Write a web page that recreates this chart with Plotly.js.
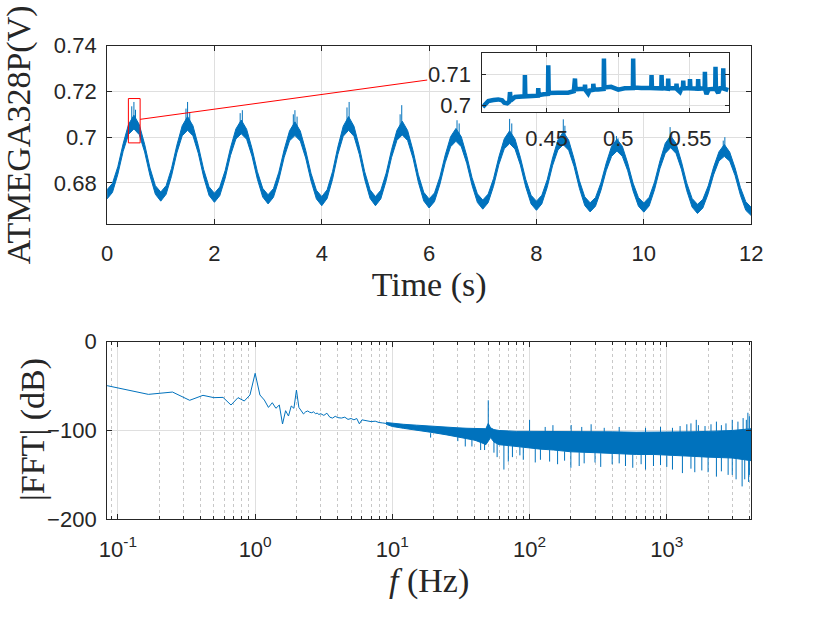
<!DOCTYPE html>
<html><head><meta charset="utf-8">
<script src="https://cdn.plot.ly/plotly-3.0.1.min.js"></script>
<style>html,body{margin:0;padding:0;background:#fff}#chart{width:830px;height:623px}</style>
</head><body><div id="chart"></div><script>
// ---------- top panel: voltage vs time (noise band centre + half width) ----------
const timeS = [0,0.1,0.2,0.3,0.4,0.5,0.6,0.7,0.8,0.9,1,1.1,1.2,1.3,1.4,1.5,1.6,1.7,1.8,1.9,2,2.1,2.2,2.3,2.4,2.5,2.6,2.7,2.8,2.9,3,3.1,3.2,3.3,3.4,3.5,3.6,3.7,3.8,3.9,4,4.1,4.2,4.3,4.4,4.5,4.6,4.7,4.8,4.9,5,5.1,5.2,5.3,5.4,5.5,5.6,5.7,5.8,5.9,6,6.1,6.2,6.3,6.4,6.5,6.6,6.7,6.8,6.9,7,7.1,7.2,7.3,7.4,7.5,7.6,7.7,7.8,7.9,8,8.1,8.2,8.3,8.4,8.5,8.6,8.7,8.8,8.9,9,9.1,9.2,9.3,9.4,9.5,9.6,9.7,9.8,9.9,10,10.1,10.2,10.3,10.4,10.5,10.6,10.7,10.8,10.9,11,11.1,11.2,11.3,11.4,11.5,11.6,11.7,11.8,11.9,12];
const voltCenter = [0.6750,0.6778,0.6854,0.6955,0.7034,0.7066,0.7033,0.6952,0.6848,0.6769,
0.6740,0.6769,0.6846,0.6948,0.7028,0.7060,0.7028,0.6946,0.6842,0.6764,
0.6735,0.6763,0.6837,0.6937,0.7014,0.7045,0.7013,0.6934,0.6833,0.6757,
0.6728,0.6756,0.6830,0.6929,0.7006,0.7037,0.7005,0.6926,0.6825,0.6749,
0.6720,0.6751,0.6832,0.6941,0.7026,0.7060,0.7026,0.6941,0.6832,0.6751,
0.6720,0.6749,0.6826,0.6928,0.7008,0.7040,0.7007,0.6925,0.6819,0.6740,
0.6710,0.6737,0.6809,0.6905,0.6980,0.7010,0.6980,0.6903,0.6806,0.6733,
0.6705,0.6732,0.6802,0.6897,0.6971,0.7000,0.6970,0.6895,0.6799,0.6727,
0.6700,0.6727,0.6797,0.6892,0.6966,0.6995,0.6965,0.6889,0.6793,0.6720,
0.6693,0.6717,0.6783,0.6870,0.6938,0.6965,0.6938,0.6870,0.6782,0.6717,
0.6692,0.6718,0.6787,0.6879,0.6951,0.6980,0.6951,0.6877,0.6783,0.6713,
0.6686,0.6709,0.6770,0.6852,0.6916,0.6942,0.6915,0.6849,0.6763,0.6699,0.6675];
const voltHalf = [0.0020,0.0020,0.0017,0.0017,0.0022,0.0030,0.0022,0.0017,0.0017,0.0019,
0.0020,0.0019,0.0017,0.0017,0.0022,0.0030,0.0022,0.0017,0.0017,0.0019,
0.0020,0.0019,0.0017,0.0017,0.0022,0.0030,0.0022,0.0017,0.0017,0.0019,
0.0020,0.0019,0.0017,0.0017,0.0022,0.0030,0.0022,0.0017,0.0017,0.0019,
0.0020,0.0019,0.0017,0.0017,0.0022,0.0030,0.0022,0.0017,0.0017,0.0019,
0.0020,0.0019,0.0017,0.0017,0.0022,0.0030,0.0022,0.0017,0.0017,0.0019,
0.0020,0.0019,0.0017,0.0017,0.0022,0.0028,0.0022,0.0017,0.0017,0.0019,
0.0020,0.0019,0.0017,0.0017,0.0022,0.0028,0.0022,0.0017,0.0017,0.0019,
0.0020,0.0019,0.0017,0.0017,0.0022,0.0028,0.0022,0.0017,0.0017,0.0019,
0.0020,0.0019,0.0017,0.0017,0.0022,0.0026,0.0022,0.0017,0.0017,0.0019,
0.0020,0.0019,0.0017,0.0017,0.0022,0.0026,0.0022,0.0017,0.0017,0.0019,
0.0020,0.0019,0.0017,0.0017,0.0020,0.0026,0.0020,0.0017,0.0017,0.0019,0.0018];
// spikes near the peaks
const spikeT    = [0.46,0.50,0.53,1.47,1.50,1.54,2.48,2.52,3.47,3.50,3.54,4.47,4.51,5.46,5.49,6.52,6.56,7.50,7.54,8.50,8.53,9.49,9.52,10.49,10.52,11.48,11.51];
const spikeBase = [0.705,0.7066,0.705,0.705,0.706,0.704,0.703,0.704,0.703,0.7037,0.702,0.705,0.706,0.703,0.704,0.7005,0.700,0.700,0.699,0.6995,0.699,0.6965,0.696,0.698,0.6975,0.694,0.6942];
const spikeTop  = [0.7135,0.7154,0.712,0.7125,0.7154,0.711,0.7105,0.7118,0.710,0.7118,0.709,0.713,0.7154,0.710,0.714,0.7074,0.706,0.708,0.706,0.7078,0.705,0.7005,0.6995,0.7044,0.702,0.6985,0.700];

// ---------- inset: zoom of 0.405 - 0.578 s ----------
const insetT = [0.4055,0.4070,0.4094,0.4130,0.4163,0.4190,0.4205,0.4225,0.4240,0.4245,0.4250,0.4280,0.4320,0.4347,0.4349,0.4352,0.4400,0.4440,0.4442,0.4445,0.4480,0.4510,0.4512,0.4515,0.4580,0.4650,0.4690,0.4698,0.4702,0.4730,0.4766,0.4768,0.4771,0.4790,0.4800,0.4824,0.4826,0.4830,0.4860,0.4898,0.4900,0.4903,0.4950,0.5000,0.5045,0.5102,0.5104,0.5107,0.5160,0.5230,0.5232,0.5235,0.5300,0.5302,0.5305,0.5346,0.5348,0.5351,0.5404,0.5406,0.5409,0.5430,0.5440,0.5451,0.5453,0.5456,0.5498,0.5500,0.5503,0.5555,0.5557,0.5560,0.5602,0.5604,0.5607,0.5615,0.5630,0.5676,0.5678,0.5681,0.5697,0.5710,0.5730,0.5732,0.5735,0.5767];
const insetV = [0.6994,0.7000,0.7014,0.7017,0.7019,0.7016,0.7008,0.7006,0.7012,0.7043,0.7015,0.7027,0.7028,0.7029,0.7098,0.7029,0.7030,0.7031,0.7056,0.7033,0.7036,0.7037,0.7130,0.7040,0.7041,0.7041,0.7046,0.7087,0.7052,0.7054,0.7054,0.7067,0.7050,0.7038,0.7048,0.7050,0.7070,0.7052,0.7051,0.7053,0.7152,0.7058,0.7060,0.7051,0.7055,0.7056,0.7152,0.7058,0.7056,0.7057,0.7098,0.7056,0.7055,0.7098,0.7056,0.7054,0.7087,0.7055,0.7055,0.7070,0.7052,0.7043,0.7054,0.7055,0.7080,0.7055,0.7056,0.7085,0.7055,0.7054,0.7085,0.7054,0.7055,0.7109,0.7050,0.7036,0.7052,0.7054,0.7125,0.7052,0.7040,0.7055,0.7055,0.7120,0.7054,0.7049];
const zoomBox = {t0: 0.397, t1: 0.616, v0: 0.6975, v1: 0.7169};
const connector = {t0: 0.616, v0: 0.7078, t1: 5.965, v1: 0.725};

// ---------- bottom panel: FFT ----------
const lowF  = [0.0833,0.1667,0.25,0.3333,0.4167,0.5,0.5833,0.6667,0.75,0.8333,0.9167,1.0,1.0833,1.1667,1.25,1.3333,1.4167,1.5,1.5833,1.6667,1.75,1.8333,1.9167,2.0,2.0833,2.1667,2.25,2.3333,2.4167,2.5,2.5833,2.6667,2.75,2.8333,2.9167,3.0,3.1667,3.3333,3.5,3.6667,3.8333,4.0,4.25,4.5,4.75,5.0,5.25,5.5,5.75,6.0,6.5,7.0,7.5,8.0,8.5,9.0];
const lowDb = [-49.5,-59.3,-56.7,-66,-60.4,-63,-62.7,-71.3,-63,-66.8,-60,-35.6,-60,-65.7,-74,-68.7,-75,-71.3,-92.7,-77.7,-83.7,-72.4,-75,-54.4,-74,-77.7,-81.4,-79,-78,-79.5,-80,-79,-81,-80.5,-82,-81,-83,-80.5,-85,-86,-84,-85.5,-86,-85,-87.5,-86.5,-88,-86.5,-92.5,-88,-89,-90,-89.5,-91,-91.5,-92];
const envF  = [9,10,12,15,20,25,30,35,40,45,48,50,52,55,60,70,80,100,120,150,200,300,400,600,800,1000,1500,2000,3000,4120];
const envHi = [-91,-92,-93,-94,-95.5,-96.5,-97,-97.5,-98,-98.5,-98,-92,-97,-99,-100,-100.5,-101,-101,-101,-101,-101.5,-101.5,-101.5,-102,-102,-102,-101.5,-101,-100,-98];
const envLo = [-93,-95.5,-97.5,-99.5,-102.5,-105,-107,-109,-111,-114,-116,-112,-108,-113,-116,-117,-118,-120,-121,-122,-124,-125,-126,-127,-127,-128,-129,-130,-131,-134];
const fftSpikeF    = [50,100,130,148,201,240,281,350,450,700,900,1100,1250,1400,1500,1640,1700,1900,2100,2300,2500,2700,3000,3300,3600,3800,3900,4000,
                      19,30,34,38,44,47,55,58,65,70,75,85,90,110,120,140,160,180,200,230,250,300,330,400,450,500,565,650,700,800,900,1000,1100,1300,1500,1600,1800,2000,2300,2500,2800,3000,3200,3540,3700,3950,4000];
const fftSpikeFrom = [-95,-101,-101,-101,-101.5,-101.5,-101.5,-101.5,-101.5,-102,-102,-102,-102,-101.5,-101.5,-101,-101,-101,-101,-101,-100.5,-100.5,-100,-99.5,-99,-98.5,-98.5,-98,
                      -103,-107,-108,-110,-112,-115,-113,-115,-116,-117,-117.5,-118.5,-119,-120.5,-121,-121.5,-122.5,-123.5,-124,-124.5,-124.5,-125,-125.5,-126,-126.5,-126.5,-127,-127,-127,-127,-127.5,-128,-128.5,-128.5,-129,-129.5,-129.5,-130,-130,-130.5,-130.5,-131,-131.5,-132,-133,-133.5,-134];
const fftSpikeTo   = [-66,-88,-96,-94,-93.8,-96,-93,-97,-96,-97,-96,-97,-95,-93,-92,-88,-94,-95,-93,-90,-94,-92,-88,-90,-86,-88,-80,-84,
                      -108,-112,-118,-118,-122,-122,-125,-130,-144,-135,-130,-128,-133,-136,-133,-135,-138,-134,-142,-140,-137,-136,-141,-138,-137,-140,-142,-138,-144,-140,-139,-141,-144,-148,-143,-147,-145,-147,-152,-146,-150,-150,-155,-163,-155,-158,-150];

const BLUE = '#0072BD', AX = '#262626', GRID = '#dfdfdf', MGRID = '#c8c8c8';
const TICKFONT = {family: 'Liberation Sans, Arial, sans-serif', size: 22, color: AX};
const TITLEFONT = {family: 'Liberation Serif, Times New Roman, serif', size: 34, color: AX};

function segs(xs, a, b) {
  const X = [], Y = [];
  xs.forEach((x, i) => { X.push(x, x, null); Y.push(a[i], b[i], null); });
  return {X, Y};
}
const vHi = voltCenter.map((v, i) => v + voltHalf[i]);
const vLo = voltCenter.map((v, i) => v - voltHalf[i]);
const sp = segs(spikeT, spikeBase, spikeTop);
const fsp = segs(fftSpikeF, fftSpikeFrom, fftSpikeTo);

const traces = [
  {x: timeS, y: vLo, type: 'scatter', mode: 'lines', line: {color: BLUE, width: 1}, xaxis: 'x', yaxis: 'y', hoverinfo: 'skip'},
  {x: timeS, y: vHi, type: 'scatter', mode: 'lines', fill: 'tonexty', fillcolor: BLUE, line: {color: BLUE, width: 1}, xaxis: 'x', yaxis: 'y'},
  {x: sp.X, y: sp.Y, type: 'scatter', mode: 'lines', line: {color: BLUE, width: 1}, xaxis: 'x', yaxis: 'y', connectgaps: false},
  {x: insetT, y: insetV, type: 'scatter', mode: 'lines', line: {color: BLUE, width: 4.5}, xaxis: 'x3', yaxis: 'y3'},
  {x: lowF, y: lowDb, type: 'scatter', mode: 'lines', line: {color: BLUE, width: 1}, xaxis: 'x2', yaxis: 'y2'},
  {x: envF, y: envLo, type: 'scatter', mode: 'lines', line: {color: BLUE, width: 1}, xaxis: 'x2', yaxis: 'y2'},
  {x: envF, y: envHi, type: 'scatter', mode: 'lines', fill: 'tonexty', fillcolor: BLUE, line: {color: BLUE, width: 1}, xaxis: 'x2', yaxis: 'y2'},
  {x: fsp.X, y: fsp.Y, type: 'scatter', mode: 'lines', line: {color: BLUE, width: 1}, xaxis: 'x2', yaxis: 'y2', connectgaps: false}
];

const xDom = [0.129, 0.905];
const topDom = [0.6404, 0.9266];
const botDom = [0.1665, 0.4515];
const insXDom = [0.5811, 0.8783], insYDom = [0.8197, 0.9144];
const topXR = [0, 12], topYR = [0.662, 0.74];

const minorVals = [];
[0.01, 0.1, 1, 10, 100, 1000].forEach(d => { for (let m = 2; m <= 9; m++) minorVals.push(m * d); });

const common = {showline: true, linecolor: AX, linewidth: 1, mirror: 'ticks', ticks: 'inside', ticklen: 5, tickcolor: AX, tickwidth: 1,
  showgrid: true, gridcolor: GRID, gridwidth: 1, zeroline: false, tickfont: TICKFONT};

const fx = p => topXR[0] + (p - xDom[0]) / (xDom[1] - xDom[0]) * (topXR[1] - topXR[0]);
const fy = p => topYR[0] + (p - topDom[0]) / (topDom[1] - topDom[0]) * (topYR[1] - topYR[0]);

const layout = {
  width: 830, height: 623, margin: {l: 0, r: 0, t: 0, b: 0}, paper_bgcolor: '#fff', plot_bgcolor: 'rgba(0,0,0,0)', showlegend: false,
  xaxis: Object.assign({}, common, {domain: xDom, anchor: 'y', range: topXR, tickvals: [0,2,4,6,8,10,12], ticklabelstandoff: 10,
    title: {text: 'Time (s)', font: TITLEFONT, standoff: 0}}),
  yaxis: Object.assign({}, common, {domain: topDom, anchor: 'x', range: topYR, tickvals: [0.68,0.70,0.72,0.74], ticktext: ['0.68','0.7','0.72','0.74'], ticklabelstandoff: 5,
    title: {text: 'ATMEGA328P(V)', font: TITLEFONT, standoff: 12}}),
  xaxis2: Object.assign({}, common, {domain: xDom, anchor: 'y2', type: 'log', range: [Math.log10(1/12), Math.log10(4120)],
    tickvals: [0.1,1,10,100,1000], ticktext: ['10<sup>-1</sup>','10<sup>0</sup>','10<sup>1</sup>','10<sup>2</sup>','10<sup>3</sup>'], ticklabelstandoff: 10,
    minor: {tickvals: minorVals, ticks: 'inside', ticklen: 3, tickcolor: AX, showgrid: true, gridcolor: MGRID, griddash: 'dot', gridwidth: 1},
    title: {text: '<i>f</i> (Hz)', font: TITLEFONT, standoff: 0}}),
  yaxis2: Object.assign({}, common, {domain: botDom, anchor: 'x2', range: [-200, 0], tickvals: [-200,-100,0], ticklabelstandoff: 5}),
  xaxis3: Object.assign({}, common, {domain: insXDom, anchor: 'y3', range: [0.4052, 0.5772], tickvals: [0.45,0.5,0.55], ticktext: ['0.45','0.5','0.55'], ticklabelstandoff: 6, ticklen: 4}),
  yaxis3: Object.assign({}, common, {domain: insYDom, anchor: 'x3', range: [0.6977, 0.7169], tickvals: [0.70,0.71], ticktext: ['0.7','0.71'], ticklabelstandoff: 6, ticklen: 4}),
  annotations: [
    {text: '|FFT| (dB)', xref: 'paper', yref: 'paper', x: 33/830, y: 1 - 430/623, xanchor: 'center', yanchor: 'middle', textangle: -90, showarrow: false, font: TITLEFONT}
  ],
  shapes: [
    {type: 'rect', xref: 'x', yref: 'y', x0: fx(insXDom[0]), x1: fx(insXDom[1]), y0: fy(insYDom[0]), y1: fy(insYDom[1]), fillcolor: '#ffffff', line: {width: 0}, layer: 'between'},
    {type: 'rect', xref: 'x', yref: 'y', x0: zoomBox.t0, x1: zoomBox.t1, y0: zoomBox.v0, y1: zoomBox.v1, line: {color: '#ff0000', width: 1}, layer: 'above'},
    {type: 'line', xref: 'x', yref: 'y', x0: connector.t0, y0: connector.v0, x1: connector.t1, y1: connector.v1, line: {color: '#ff0000', width: 1}, layer: 'above'}
  ]
};
Plotly.newPlot('chart', traces, layout, {displayModeBar: false, staticPlot: true});
</script></body></html>
